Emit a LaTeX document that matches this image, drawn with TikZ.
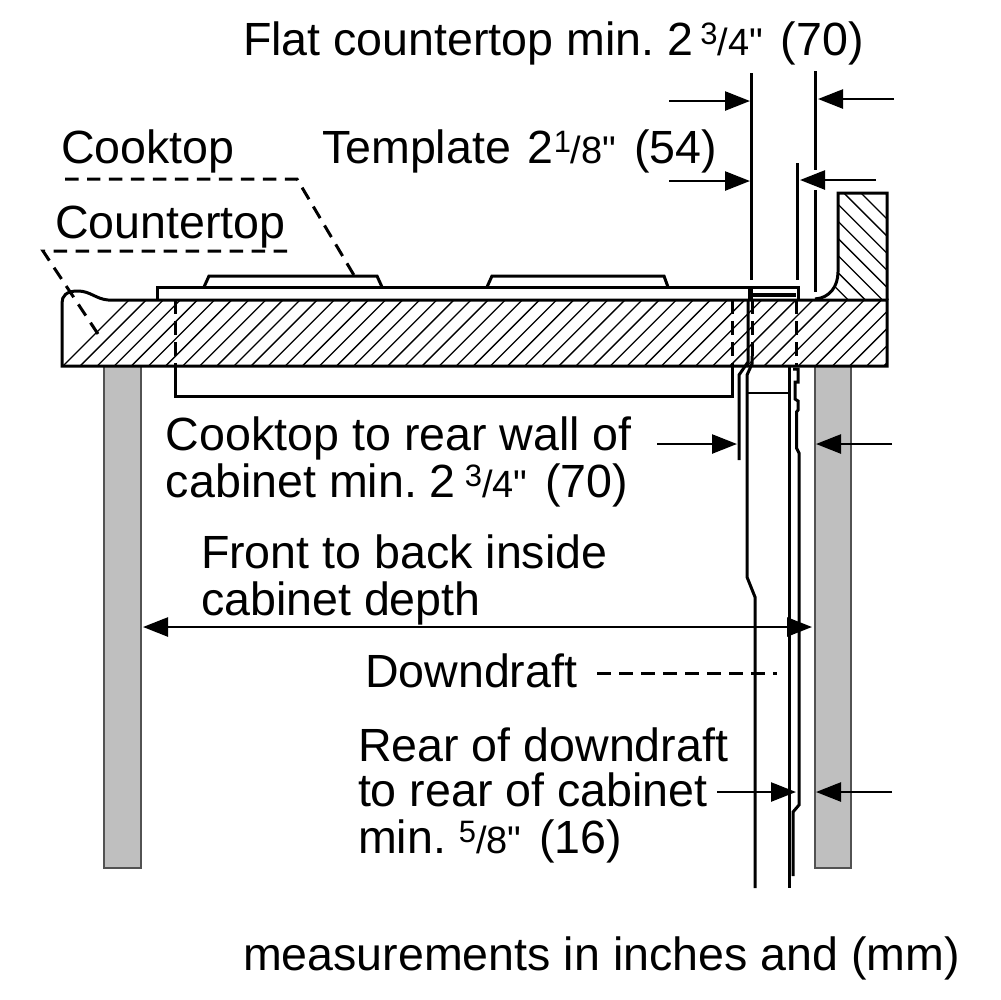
\documentclass[tikz,border=0pt]{standalone}
\usepackage{fontspec}
\setmainfont{Liberation Sans}
\newfontfamily\plainfont{Liberation Sans}
\usetikzlibrary{arrows.meta}
\newcommand{\smfrac}[2]{{\fontsize{8.8pt}{11pt}\selectfont\raisebox{1.05mm}{#1}}{\fontsize{10.8pt}{11pt}\selectfont/#2}{\plainfont\fontsize{11pt}{11pt}\selectfont"}\hspace{0.5mm}}
\tikzset{
	every node/.style={font=\frenchspacing\fontsize{13.25pt}{15pt}\selectfont, inner sep=0pt, outer sep=0pt, anchor=base west},
	line/.style={line width=0.3mm, color=black},
	thinline/.style={line width=0.2mm, color=black},
	hatch/.style={line width=0.13mm, color=black},
	leader/.style={line width=0.3mm, dash pattern=on 1.35mm off 0.85mm},
	cutline/.style={line width=0.3mm, dash pattern=on 1.4mm off 0.7mm},
	dimarrow/.style={line width=0.25mm, -{Triangle[length=2.5mm, width=1.9mm]}},
	bothways/.style={line width=0.25mm, {Triangle[length=2.5mm, width=1.9mm]}-{Triangle[length=2.5mm, width=1.9mm]}},
	leg/.style={fill=black!25, draw=black!68, line width=0.28mm},
}
\begin{document}
\begin{tikzpicture}[x=0.1mm, y=-0.1mm]
	\useasboundingbox (0, 0) rectangle (1000, 1000);
	
	%%%%% legs %%%%%
	\draw[leg] (104, 366) rectangle (141, 868);
	\draw[leg] (815, 366) rectangle (851, 868);
	
	%%%%% countertop %%%%%
	\begin{scope}
		\clip (62, 366) -- (62, 303) .. controls (62, 296) and (66, 291) .. (78, 291) .. controls (90, 291) and (96, 299) .. (108, 300) -- (887, 300) -- (887, 366) -- cycle;
		\foreach \x in {63, 80.1, ..., 890} {
			\draw[hatch] (\x, 366) -- (\x+80, 286);
		}
	\end{scope}
	\draw[line] (108, 300) -- (887, 300) -- (887, 366) -- (62, 366) -- (62, 303) .. controls (62, 296) and (66, 291) .. (78, 291) .. controls (90, 291) and (96, 299) .. (108, 300);
	
	%%%%% wall %%%%%
	\begin{scope}
		\clip (838, 193) -- (887, 193) -- (887, 300) -- (824, 300) .. controls (832, 296) and (838, 286) .. (838, 272) -- cycle;
		\foreach \x in {738.3, 755.4, ..., 860} {
			\draw[hatch] (\x, 190) -- (\x+120, 310);
		}
	\end{scope}
	\draw[line] (815, 299) .. controls (830, 298) and (838, 286) .. (838, 272) -- (838, 193) -- (887, 193) -- (887, 300);
	
	%%%%% cooktop %%%%%
	\draw[line] (157, 300) -- (157, 287) -- (749, 287) -- (749, 300);
	\draw[line] (204, 287) -- (209, 276) -- (377, 276) -- (382, 287);
	\draw[line] (487, 287) -- (492, 276) -- (664, 276) -- (668, 287);
	\draw[line] (175, 366) -- (175, 396) -- (732, 396) -- (732, 366);
	\draw[cutline] (175, 300) -- (175, 366);
	\draw[cutline] (732, 300) -- (732, 366);
	
	%%%%% downdraft %%%%%
	\draw[line] (751, 300) -- (751, 287) -- (798, 287) -- (798, 300);
	\draw[line width=0.4mm] (753, 295) -- (796, 295);
	\draw[line] (748, 300) -- (748, 362) -- (739, 375) -- (739, 460);
	\draw[cutline] (752, 300) -- (752, 356);
	\draw[line] (752, 356) -- (752, 364) -- (747, 375) -- (747, 577) -- (755, 597) -- (755, 888);
	\draw[thinline] (747, 393) -- (789, 393);
	\draw[line] (789, 366) -- (789, 888);
	\draw[cutline] (796, 300) -- (796, 366);
	\draw[line] (793, 369) -- (798, 369) -- (798, 382) -- (795, 382) -- (795, 399) -- (798, 401) -- (798, 410) -- (796.5, 412) -- (796.5, 448) -- (799, 453) -- (799, 805) -- (793, 812) -- (793, 876);
	
	%%%%% dimension lines %%%%%
	\draw[line] (751, 73) -- (751, 280);
	\draw[line] (797, 163) -- (797, 280);
	\draw[line] (815, 71) -- (815, 170);
	\draw[line] (815, 190) -- (815, 292);
	
	\draw[dimarrow] (669, 101) -- (750, 101);
	\draw[dimarrow] (894, 99) -- (818, 99);
	\draw[dimarrow] (669, 181) -- (750, 181);
	\draw[dimarrow] (876, 180) -- (800, 180);
	\draw[dimarrow] (657, 444) -- (737, 444);
	\draw[dimarrow] (892, 444) -- (816, 444);
	\draw[bothways] (143, 627) -- (812, 627);
	\draw[dimarrow] (717, 792) -- (796, 792);
	\draw[dimarrow] (892, 792) -- (816, 792);
	
	%%%%% leaders %%%%%
	\draw[leader] (65, 179) -- (297, 179) -- (358, 282);
	\draw[leader] (287, 251) -- (43, 251) -- (100, 337);
	\draw[leader] (597, 673) -- (777, 673);
	
	%%%%% labels %%%%%
	\node (flatlabel) at (243, 55) {Flat countertop min. 2\hspace{0.7mm}\smfrac{3}{4} (70)};
	\node (templatelabel) at (322, 163) {Template\hspace{0.4mm} 2\smfrac{1}{8} (54)};
	\node (cooktoplabel) at (61, 163) {Cooktop};
	\node (counterlabel) at (55, 238) {Countertop};
	\node (rearwalla) at (166, 450) {Cooktop to rear wall of};
	\node (rearwallb) at (166, 497) {cabinet min. 2\hspace{0.9mm}\smfrac{3}{4} (70)};
	\node (deptha) at (201, 568) {Front to back inside};
	\node (depthb) at (201, 615) {cabinet depth};
	\node (downdraftlabel) at (365, 687) {Downdraft};
	\node (reara) at (358, 761) {Rear of downdraft};
	\node (rearb) at (358, 806) {to rear of cabinet};
	\node (rearc) at (358, 853) {min. \smfrac{5}{8} (16)};
	\node (unitslabel) at (243, 970) {measurements in inches and (mm)};
\end{tikzpicture}
\end{document}
